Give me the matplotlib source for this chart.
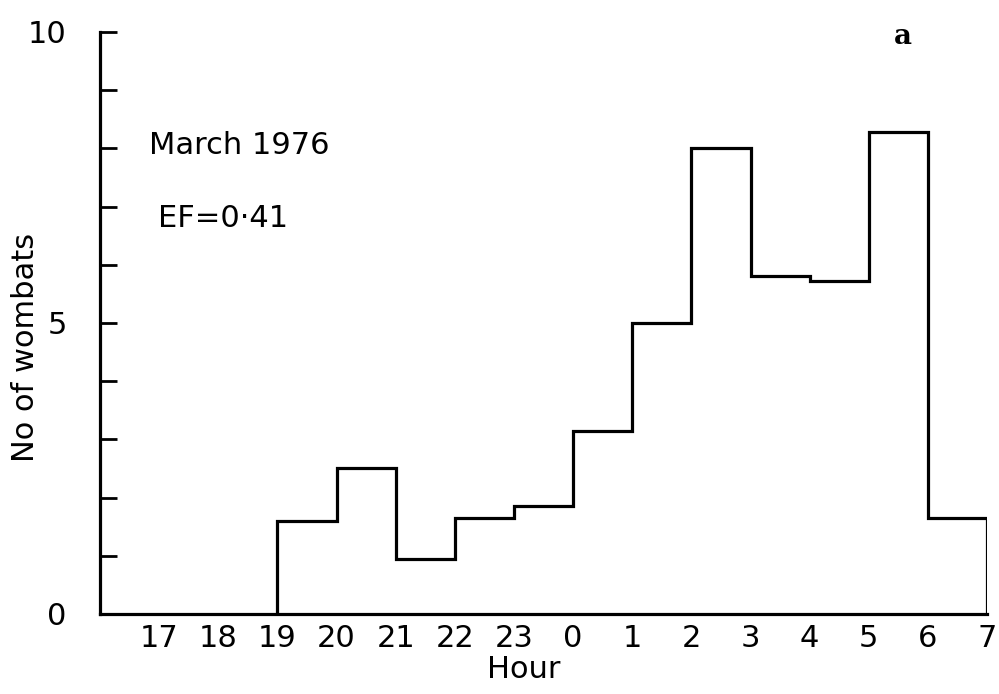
import numpy as np
import matplotlib.pyplot as plt

# hours counted past midnight (24 = 0h, 31 = 7h)
hour_ticks = np.arange(17, 32)
hour_labels = ['17', '18', '19', '20', '21', '22', '23', '0', '1', '2', '3', '4', '5', '6', '7']
bin_edges = np.arange(19, 32)
wombats = [1.6, 2.5, 0.95, 1.65, 1.85, 3.15, 5.0, 8.0, 5.8, 5.72, 8.28, 1.65]

fig = plt.figure(figsize=(9.99, 6.94), dpi=100)
ax = fig.add_axes([0.1001, 0.1153, 0.888, 0.8386])

ax.stairs(wombats, bin_edges, baseline=0, color='black', linewidth=2.3)

ax.set_xlim(16, 31)
ax.set_ylim(0, 10)
ax.spines['top'].set_visible(False)
ax.spines['right'].set_visible(False)
ax.spines['left'].set_linewidth(2.3)
ax.spines['bottom'].set_linewidth(2.3)

ax.set_xticks(hour_ticks)
ax.set_xticklabels(hour_labels)
ax.tick_params(axis='x', length=0, pad=7, labelsize=22)

ax.set_yticks(np.arange(0, 11))
ax.set_yticklabels(['0', '', '', '', '', '5', '', '', '', '', '10'])
ax.tick_params(axis='y', direction='in', length=12, width=2, pad=24, labelsize=22)

# axis titles placed by hand, as in the scan
fig.text(0.026, 0.499, 'No of wombats', rotation=90, fontsize=22,
         ha='center', va='center')
fig.text(0.524, 0.036, 'Hour', fontsize=22, ha='center', va='center')

ax.text(0.055, 0.79, 'March 1976', transform=ax.transAxes, fontsize=22)
ax.text(0.065, 0.665, 'EF=0·41', transform=ax.transAxes, fontsize=22)
ax.text(0.895, 0.98, 'a', transform=ax.transAxes, fontsize=20,
        fontweight='bold', family='DejaVu Serif')

fig.savefig('out.png', dpi=100)
